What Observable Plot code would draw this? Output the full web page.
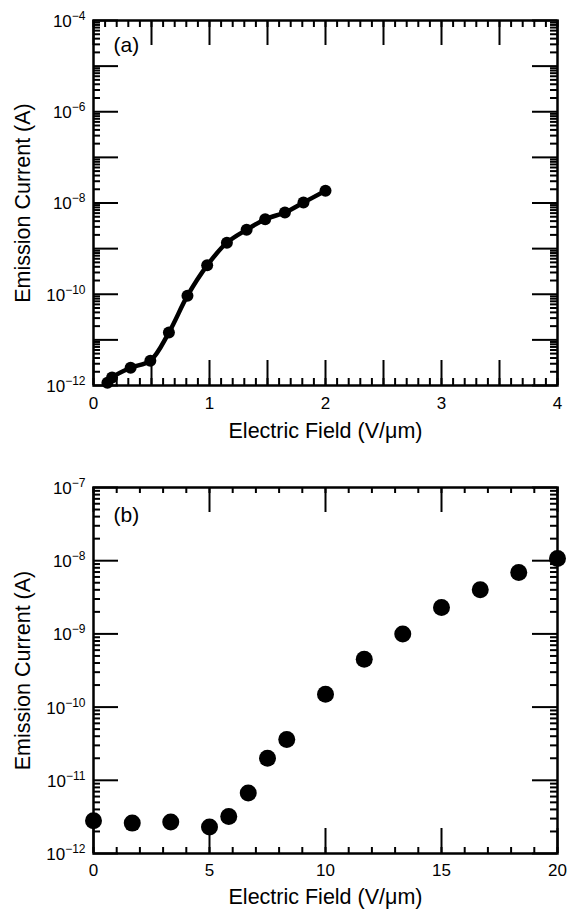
<!DOCTYPE html>
<html><head><meta charset="utf-8">
<script src="https://cdn.jsdelivr.net/npm/d3@7"></script>
<script src="https://cdn.jsdelivr.net/npm/@observablehq/plot@0.6"></script>
<style>
body{margin:0;background:#fff;}
#chart{width:571px;}
#chart svg{display:block;}
</style></head><body><div id="chart"></div>
<script>
// ---- Panel (a) data ----
const fieldA = [0.12, 0.16, 0.32, 0.49, 0.65, 0.81, 0.98, 1.15, 1.32, 1.48, 1.65, 1.81, 2.0];
const currentA = [1.15e-12, 1.5e-12, 2.45e-12, 3.5e-12, 1.45e-11, 9.3e-11, 4.3e-10, 1.35e-9, 2.6e-9, 4.4e-9, 6.2e-9, 1.02e-8, 1.86e-8];

// ---- Panel (b) data ----
const fieldB = [0, 1.67, 3.33, 5, 5.83, 6.67, 7.5, 8.33, 10, 11.67, 13.33, 15, 16.67, 18.33, 20];
const currentB = [2.8e-12, 2.6e-12, 2.7e-12, 2.3e-12, 3.2e-12, 6.7e-12, 2.0e-11, 3.6e-11, 1.5e-10, 4.5e-10, 1.0e-9, 2.3e-9, 4.0e-9, 6.9e-9, 1.07e-8];

// ---- Tick definitions ----
const xLabelsA = [0, 1, 2, 3, 4];
const xMajorA = [0, 0.5, 1, 1.5, 2, 2.5, 3, 3.5, 4];
const yDecadesA = [1e-12, 1e-11, 1e-10, 1e-9, 1e-8, 1e-7, 1e-6, 1e-5, 1e-4];
const yLabelsA = [1e-12, 1e-10, 1e-8, 1e-6, 1e-4];

const xLabelsB = [0, 5, 10, 15, 20];
const xMajorB = [0, 5, 10, 15, 20];
const yDecadesB = [1e-12, 1e-11, 1e-10, 1e-9, 1e-8, 1e-7];
const yLabelsB = [1e-12, 1e-11, 1e-10, 1e-9, 1e-8, 1e-7];

const xTitle = "Electric Field (V/\u03BCm)";
const yTitle = "Emission Current (A)";
const panelLabels = ["(a)", "(b)"];

const FONT = "'Liberation Sans', Arial, Helvetica, sans-serif";
const W = 571, ML = 93, MR = 14;
const FW = W - ML - MR; // frame width in px

function logMinor(decades) {
  const out = [];
  for (let i = 0; i < decades.length - 1; i++)
    for (let m = 2; m <= 9; m++) out.push(m * decades[i]);
  return out;
}
function linMinor(lo, hi, step) {
  const out = [];
  const n = Math.round((hi - lo) / step);
  for (let i = 0; i <= n; i++) out.push(+(lo + i * step).toFixed(6));
  return out;
}

// inward ticks: tick marks shortened with insets
function inX(ticks, side, len, FH, sw) {
  const o = {x: d => d, stroke: "black", strokeWidth: sw};
  if (side === "bottom") o.insetTop = FH - len; else o.insetBottom = FH - len;
  return Plot.tickX(ticks, o);
}
function inY(ticks, side, len, sw) {
  const o = {y: d => d, stroke: "black", strokeWidth: sw};
  if (side === "left") o.insetRight = FW - len; else o.insetLeft = FW - len;
  return Plot.tickY(ticks, o);
}

function frameMarks({FH, xMajor, xMinor, xMinorLen, yMajor, yMinor, xLabels, yLabels, xPad, label, labelDy, titleDy}) {
  return [
    inX(xMinor, "bottom", xMinorLen, FH, 2), inX(xMinor, "top", xMinorLen, FH, 2),
    inX(xMajor, "bottom", 25, FH, 2), inX(xMajor, "top", 25, FH, 2),
    inY(yMinor, "left", 7, 2), inY(yMinor, "right", 7, 2),
    inY(yMajor, "left", 25, 2), inY(yMajor, "right", 25, 2),
    Plot.axisX(xLabels, {anchor: "bottom", tickSize: 0, tickPadding: xPad, fontSize: 17, label: null, tickFormat: d => String(d)}),
    Plot.axisY(yLabels, {anchor: "left", tickSize: 0, tickPadding: 8, fontSize: 17, dy: 1, label: null,
      tickFormat: d => "10^" + Math.round(Math.log10(d))}),
    Plot.frame({strokeWidth: 2.5}),
    Plot.text([xTitle], {frameAnchor: "bottom", dy: titleDy, text: d => d, fontSize: 21.5, textAnchor: "middle", lineAnchor: "bottom"}),
    Plot.text([yTitle], {frameAnchor: "left", dx: -64, rotate: -90, text: d => d, fontSize: 21.5, textAnchor: "middle", lineAnchor: "bottom"}),
    Plot.text([label], {frameAnchor: "top-left", dx: 20, dy: labelDy, text: d => d, fontSize: 21, textAnchor: "start", lineAnchor: "bottom"})
  ];
}

function superscripts(svg) {
  const ns = "http://www.w3.org/2000/svg";
  svg.querySelectorAll('g[aria-label="y-axis tick label"] text').forEach(t => {
    const s = t.textContent;
    if (!s.includes("^")) return;
    const [base, exp] = s.split("^");
    t.textContent = "";
    const a = document.createElementNS(ns, "tspan");
    a.textContent = base;
    const b = document.createElementNS(ns, "tspan");
    b.textContent = exp.replace("-", "\u2212");
    b.setAttribute("dy", "-7");
    b.setAttribute("font-size", "12");
    t.append(a, b);
  });
}

const HA = 455, MTA = 20, MBA = 70;
const plotA = Plot.plot({
  width: W, height: HA,
  marginLeft: ML, marginRight: MR, marginTop: MTA, marginBottom: MBA,
  style: {fontFamily: FONT, background: "white", color: "black"},
  x: {domain: [0, 4]},
  y: {type: "log", domain: [1e-12, 1e-4]},
  marks: [
    ...frameMarks({FH: HA - MTA - MBA, xMajor: xMajorA, xMinor: linMinor(0, 4, 0.1), xMinorLen: 7, yMajor: yDecadesA, yMinor: logMinor(yDecadesA),
      xLabels: xLabelsA, yLabels: yLabelsA, xPad: 11, label: panelLabels[0], labelDy: 31, titleDy: 52}),
    Plot.line(fieldA.map((x, i) => ({x, y: currentA[i]})), {x: "x", y: "y", stroke: "black", strokeWidth: 4.5, curve: "catmull-rom"}),
    Plot.dot(fieldA.map((x, i) => ({x, y: currentA[i]})), {x: "x", y: "y", r: 6, fill: "black"})
  ]
});

const HB = 456, MTB = 32, MBB = 58;
const plotB = Plot.plot({
  width: W, height: HB,
  marginLeft: ML, marginRight: MR, marginTop: MTB, marginBottom: MBB,
  style: {fontFamily: FONT, background: "white", color: "black"},
  x: {domain: [0, 20]},
  y: {type: "log", domain: [1e-12, 1e-7]},
  marks: [
    ...frameMarks({FH: HB - MTB - MBB, xMajor: xMajorB, xMinor: linMinor(0, 20, 1), xMinorLen: 6, yMajor: yDecadesB, yMinor: logMinor(yDecadesB),
      xLabels: xLabelsB, yLabels: yLabelsB, xPad: 10, label: panelLabels[1], labelDy: 34, titleDy: 50}),
    Plot.dot(fieldB.map((x, i) => ({x, y: currentB[i]})), {x: "x", y: "y", r: 8.5, fill: "black"})
  ]
});

superscripts(plotA);
superscripts(plotB);
document.getElementById("chart").append(plotA, plotB);
</script>
</body></html>
